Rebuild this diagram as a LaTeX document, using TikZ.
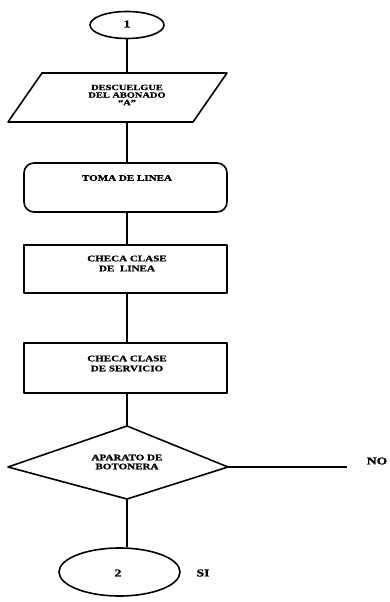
\documentclass[tikz,border=0pt]{standalone}
\usepackage{fontspec}
\newfontfamily\flowfont[FakeStretch=1.3,BoldFeatures={FakeBold=1.2}]{Liberation Serif}
\usetikzlibrary{shapes.geometric}
\begin{document}
\begin{tikzpicture}[x=1pt,y=-1pt,
  outline/.style={draw=black,line width=1.6pt,line join=round},
  link/.style={draw=black,line width=1.7pt},
  boxtext/.style={inner sep=0pt,align=center,
    font=\flowfont\bfseries\fontsize{8.5}{10}\selectfont},
  bigtext/.style={inner sep=0pt,font=\flowfont\bfseries\fontsize{10.5}{12}\selectfont},
  terminal/.style={outline,ellipse,inner sep=0pt},
  procbox/.style={outline,rectangle,inner sep=0pt,minimum width=203pt}]
\useasboundingbox (0,0) rectangle (390,602);

% connector off-page marker 1
\node[terminal,minimum width=74pt,minimum height=27pt] (e1) at (127,25) {};
\node[bigtext] (n1) at (127,24) {1};

% input/output parallelogram
\coordinate (pTL) at (42,73);
\coordinate (pTR) at (227,73);
\coordinate (pBR) at (193,122);
\coordinate (pBL) at (8,122);
\coordinate (pT) at (127,73);
\coordinate (pB) at (127,122);
\draw[outline] (pTL) -- (pTR) -- (pBR) -- (pBL) -- cycle;
\node[boxtext,font=\flowfont\bfseries\fontsize{8}{7.6}\selectfont] (tdesc) at (127,95)
  {DESCUELGUE\\DEL ABONADO\\“A”};

% rounded process
\node[procbox,rounded corners=10pt,minimum height=49pt] (toma) at (125.5,187.5) {};
\node[boxtext] (ttoma) at (127,178) {TOMA DE LINEA};

% process boxes
\node[procbox,minimum height=48pt] (clin) at (125.5,269) {};
\node[boxtext] (tclin) at (127,263.5) {CHECA CLASE\\DE\ \ LINEA};

\node[procbox,minimum height=50pt] (cser) at (125.5,368) {};
\node[boxtext] (tcser) at (127,363.5) {CHECA CLASE\\DE SERVICIO};

% decision
\coordinate (dT) at (127,426);
\coordinate (dR) at (228,467);
\coordinate (dB) at (127,499);
\coordinate (dL) at (8,467);
\draw[outline] (dT) -- (dR) -- (dB) -- (dL) -- cycle;
\node[boxtext,font=\flowfont\bfseries\fontsize{8.5}{9}\selectfont] (tdec) at (127,462)
  {APARATO DE\\BOTONERA};

% connector off-page marker 2
\node[terminal,minimum width=121pt,minimum height=48pt] (e2) at (119.5,572) {};
\node[bigtext] (n2) at (118,573) {2};

% branch labels
\coordinate (noend) at (347,467);
\node[bigtext] (lno) at (377,461) {NO};
\node[bigtext] (lsi) at (203,573) {SI};

% connectors
\draw[link] (pT |- e1.south) -- (pT);
\draw[link] (pB) -- (pB |- toma.north);
\draw[link] (pB |- toma.south) -- (pB |- clin.north);
\draw[link] (pB |- clin.south) -- (pB |- cser.north);
\draw[link] (pB |- cser.south) -- (dT);
\draw[link] (dB) -- (dB |- e2.north);
\draw[link] (dR) -- (noend);
\end{tikzpicture}
\end{document}
